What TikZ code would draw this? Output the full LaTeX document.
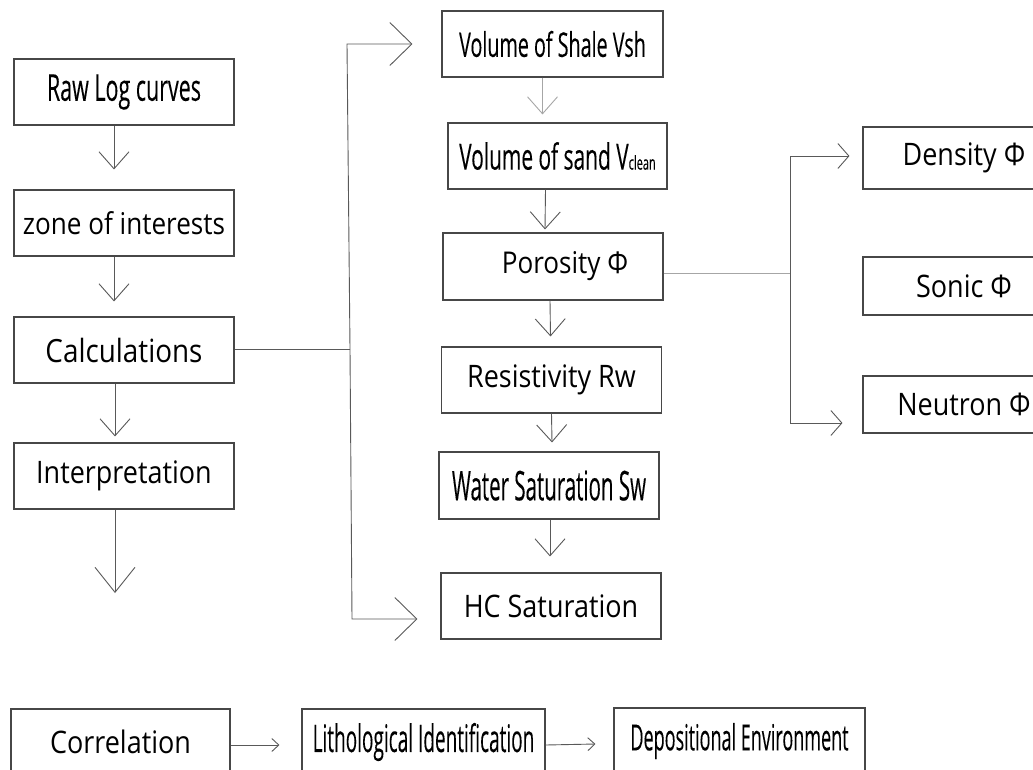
\documentclass[tikz,border=0pt]{standalone}
\usepackage{fontspec}
\usepackage{tikz}
\usetikzlibrary{arrows.meta,calc}
\newfontfamily\regfont[FakeStretch=0.87]{Open Sans}
\newfontfamily\condfont[FakeStretch=0.58,FakeBold=0.12]{Open Sans}
\newfontfamily\narrowfont[FakeStretch=0.5,FakeBold=0.12]{Open Sans}

\begin{document}
\begin{tikzpicture}[
  x=1pt, y=-1pt,
  box/.style={rectangle, draw=black!72, line width=1.1pt, minimum width=220pt,
              minimum height=66pt, inner sep=0pt},
  regtext/.style={font=\regfont\fontsize{#1}{#1}\selectfont},
  condtext/.style={font=\condfont\fontsize{#1}{#1}\selectfont},
  narrowtext/.style={font=\narrowfont\fontsize{#1}{#1}\selectfont},
  link/.style={draw=black!65, line width=0.9pt},
  palelink/.style={draw=black!35, line width=0.9pt},
  smallhead/.style={-{Straight Barb[length=17pt, width=30pt]}},
  bighead/.style={-{Straight Barb[length=22pt, width=43pt]}},
  sidehead/.style={-{Straight Barb[length=11pt, width=25pt]}},
  tinyhead/.style={-{Straight Barb[length=7pt, width=13pt]}}
]
  \clip (0,0) rectangle (1033,769);
  \fill[white] (0,0) rectangle (1033,769);

  % left column
  \node[box, condtext=37] (raw)    at (124,92)  {Raw Log curves};
  \node[box, regtext=30]  (zone)   at (124,223) {zone of interests};
  \node[box, regtext=32]  (calc)   at (124,350) {Calculations};
  \node[box, regtext=31]  (interp) at (124,476) {Interpretation};
  \coordinate (interpend) at (115,593);

  % middle column
  \node[box, condtext=34, minimum width=221pt] (vsh) at (552.5,44) {Volume of Shale Vsh};
  \node[box, condtext=36, minimum width=219pt] (vclean) at (557.5,156)
       {Volume of sand V{\fontsize{19}{19}\selectfont clean}};
  \node[box, regtext=30, minimum height=67pt] (por) at (553,266.5) {\hspace*{24pt}Porosity Φ};
  \node[box, regtext=31]  (res)   at (551.5,380) {Resistivity Rw};
  \node[box, narrowtext=41, minimum height=67pt] (water) at (549,485.5) {Water Saturation Sw};
  \node[box, regtext=31]  (hc)    at (551,606) {HC Saturation};

  % porosity logs
  \node[box, regtext=31, minimum width=202pt, minimum height=62pt] (den) at (964,158)   {Density Φ};
  \node[box, regtext=31, minimum width=202pt, minimum height=58pt] (son) at (964,286)   {Sonic Φ};
  \node[box, regtext=31, minimum width=202pt, minimum height=57pt] (neu) at (964,404.5) {Neutron Φ};

  % bottom row
  \node[box, regtext=31, minimum width=219pt]    (corr)  at (120.5,742) {Correlation};
  \node[box, narrowtext=38, minimum width=243pt] (litho) at (423.5,742) {Lithological Identification};
  \node[box, narrowtext=36, minimum width=251pt] (dep)   at (739.5,741) {Depositional Environment};

  % junctions
  \coordinate (jt) at (347,44);
  \coordinate (jm) at (350,349);
  \coordinate (jb) at (352,619);
  \coordinate (kt) at (790,156);
  \coordinate (kp) at (790,273);
  \coordinate (kb) at (790,423);

  \draw[link, smallhead] ([xshift=-10pt]raw.south)  -- ([xshift=-10pt,yshift=20pt]zone.north);
  \draw[link, smallhead] ([xshift=-10pt]zone.south) -- ([xshift=-10pt,yshift=15pt]calc.north);
  \draw[link, smallhead] ([xshift=-9pt]calc.south)  -- ([xshift=-9pt,yshift=6pt]interp.north);
  \draw[link, -{Straight Barb[length=25pt, width=40pt]}] ([xshift=-9pt]interp.south) -- (interpend);

  \draw[palelink, smallhead] ([xshift=-10pt]vsh.south)   -- ([xshift=-15pt,yshift=8pt]vclean.north);
  \draw[link, smallhead]     ([xshift=-12pt]vclean.south) -- ([xshift=-8pt,yshift=3pt]por.north);
  \draw[link, smallhead]     ([xshift=-3pt]por.south)     -- ([xshift=-1pt,yshift=10pt]res.north);
  \draw[link, smallhead]     ([xshift=0pt]res.south)      -- ([xshift=3pt,yshift=9pt]water.north);
  \draw[link, smallhead]     ([xshift=1pt]water.south)    -- ([xshift=-1pt,yshift=16pt]hc.north);

  \draw[link] (calc.east |- jm) -- (jm);
  \draw[link, bighead] (jm) -- (jt) -- ($(jt -| vsh.west)+(-29,0)$);
  \draw[link, bighead] (jm) -- (jb) -- ($(jb -| hc.west)+(-23,0)$);

  \draw[palelink] (por.east |- kp) -- (kp);
  \draw[link, sidehead] (kp) -- (kt) -- ($(kt -| den.west)+(-13,0)$);
  \draw[link, sidehead] (kp) -- (kb) -- ($(kb -| neu.west)+(-20,0)$);

  \draw[link, tinyhead] ([yshift=-3pt]corr.east)  -- ($([yshift=-3pt]litho.west)+(-22,0)$);
  \draw[link, tinyhead] ([yshift=-3pt]litho.east) -- ($([yshift=-3pt]dep.west)+(-18,0)$);
\end{tikzpicture}
\end{document}
